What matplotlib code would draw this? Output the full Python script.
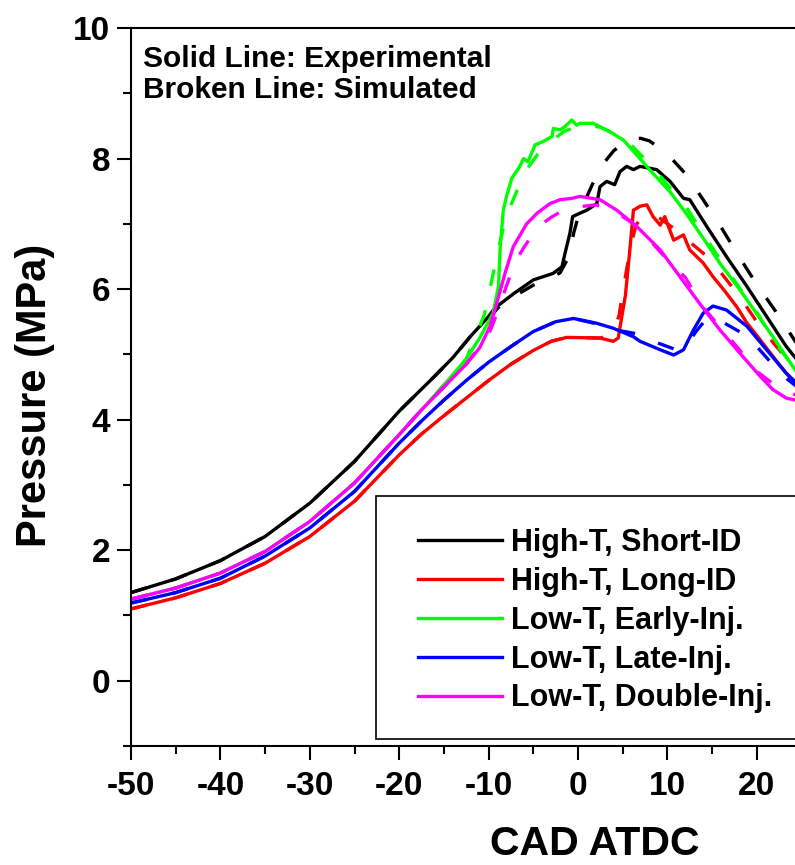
import matplotlib
matplotlib.use("Agg")
import matplotlib.pyplot as plt
from matplotlib.ticker import MultipleLocator
from matplotlib.patches import Rectangle

plt.rcParams['font.family'] = ['Liberation Sans', 'DejaVu Sans']
plt.rcParams['font.weight'] = 'bold'
plt.rcParams['axes.unicode_minus'] = False

# ---------------- data (crank angle in CAD ATDC, pressure in MPa) ----------------
labels = ["High-T, Short-ID", "High-T, Long-ID", "Low-T, Early-Inj.",
          "Low-T, Late-Inj.", "Low-T, Double-Inj."]
colors = ["#000000", "#ff0000", "#00ff00", "#0000ff", "#ff00ff"]

# High-T, Short-ID
hts_exp_x = [-50, -45, -40, -35, -30, -25, -20, -18, -16, -14, -12, -10, -9.3, -7.2, -5, -2.8,
             -1.8, -1.45, -0.9, -0.6, -0.15, 1.0, 2.1, 2.46, 3.2, 4.1, 4.7, 5.45, 6.2, 6.94,
             8.8, 10.3, 11.8, 12.5, 14.4, 16.6, 18.9, 21.1, 23.3, 24.3, 25]
hts_exp_y = [1.35, 1.56, 1.84, 2.21, 2.72, 3.36, 4.13, 4.40, 4.67, 4.95, 5.28, 5.58, 5.71, 5.93,
             6.14, 6.24, 6.34, 6.55, 6.86, 7.11, 7.14, 7.21, 7.31, 7.57, 7.65, 7.60, 7.80, 7.88,
             7.83, 7.88, 7.83, 7.65, 7.39, 7.37, 6.96, 6.50, 6.04, 5.58, 5.12, 4.95, 4.83]
hts_sim_x = [-50, -45, -40, -35, -30, -25, -20, -18, -16, -14, -12, -10, -8.5, -7, -5, -3.5,
             -2, -1, -0.5, 0, 1, 2, 3, 4, 5, 6, 7, 8, 10, 12, 14, 16, 18, 20, 22, 24.3, 25]
hts_sim_y = [1.35, 1.56, 1.84, 2.21, 2.72, 3.36, 4.13, 4.40, 4.67, 4.95, 5.28, 5.55, 5.78, 5.90,
             6.06, 6.14, 6.25, 6.50, 6.85, 7.10, 7.42, 7.72, 7.95, 8.12, 8.23, 8.30, 8.31, 8.27,
             8.07, 7.77, 7.37, 6.95, 6.50, 6.07, 5.68, 5.20, 5.06]

# High-T, Long-ID
htl_exp_x = [-50, -45, -40, -35, -30, -25, -20, -17.5, -15, -12.5, -10, -7.5, -5.0, -3.0,
             -1.26, 2.46, 3.95, 4.5, 4.9, 5.3, 5.8, 6.2, 6.6, 6.94, 7.7, 8.4, 9.2, 9.7, 10.7,
             11.8, 12.5, 14.0, 15.1, 16.3, 17.75, 18.9, 20.4, 21.8, 23.3, 24.3, 25]
htl_exp_y = [1.10, 1.27, 1.49, 1.80, 2.21, 2.75, 3.46, 3.78, 4.06, 4.33, 4.60, 4.85, 5.06, 5.20,
             5.26, 5.25, 5.20, 5.25, 5.58, 5.90, 6.60, 7.21, 7.24, 7.27, 7.29, 7.11, 6.98, 7.11,
             6.75, 6.83, 6.60, 6.40, 6.19, 5.99, 5.73, 5.48, 5.22, 4.97, 4.71, 4.56, 4.45]
htl_sim_x = [-50, -45, -40, -35, -30, -25, -20, -17.5, -15, -12.5, -10, -7.5, -5.0, -3.0,
             -1.26, 2.5, 3.2, 4.0, 4.6, 5.0, 5.5, 6.0, 6.5, 7.2, 8, 9, 10.5, 12, 14, 16, 18,
             20, 22, 24.3, 25]
htl_sim_y = [1.10, 1.27, 1.49, 1.80, 2.21, 2.75, 3.46, 3.78, 4.06, 4.33, 4.60, 4.85, 5.06, 5.20,
             5.26, 5.25, 5.28, 5.35, 5.60, 5.95, 6.35, 6.72, 6.98, 7.12, 7.15, 7.10, 6.95, 6.78,
             6.55, 6.25, 5.90, 5.50, 5.15, 4.78, 4.66]

# Low-T, Early-Inj.
lte_exp_x = [-50, -45, -40, -35, -30, -25, -20, -17.5, -15, -12.5, -11, -9.5, -8.9, -8.7,
             -8.35, -8.0, -7.4, -6.5, -6.1, -5.6, -4.8, -3.9, -2.9, -2.76, -2.0, -1.45, -0.7,
             -0.15, 0.2, 1.7, 3.6, 5.1, 6.6, 8.4, 10.3, 12.2, 14.4, 15.9, 18.1, 21.8, 24.3, 25]
lte_exp_y = [1.25, 1.42, 1.65, 1.98, 2.44, 3.03, 3.77, 4.15, 4.53, 4.93, 5.25, 5.63, 6.04, 6.65,
             7.21, 7.42, 7.70, 7.88, 8.00, 7.95, 8.21, 8.26, 8.34, 8.46, 8.44, 8.49, 8.59,
             8.51, 8.54, 8.54, 8.41, 8.28, 8.05, 7.77, 7.49, 7.14, 6.70, 6.39, 5.99, 5.27, 4.76,
             4.63]
lte_sim_x = [-50, -45, -40, -35, -30, -25, -20, -17.5, -15, -12.5, -10.5, -9.7, -8.9, -8, -7,
             -6, -4.5, -3, -1.5, 0, 1, 2.5, 4, 6, 8, 10, 12, 14, 16, 18, 20, 22, 24.3, 25]
lte_sim_y = [1.25, 1.42, 1.65, 1.98, 2.44, 3.03, 3.77, 4.15, 4.53, 4.93, 5.60, 6.10, 6.62, 7.13,
             7.45, 7.78, 8.07, 8.27, 8.42, 8.49, 8.51, 8.48, 8.38, 8.20, 7.92, 7.60, 7.28, 6.85,
             6.43, 6.03, 5.65, 5.18, 4.78, 4.65]

# Low-T, Late-Inj.
ltl_exp_x = [-50, -45, -40, -35, -30, -25, -20, -17.5, -15, -12.5, -10, -7.5, -5.0, -2.5, -0.5,
             2, 3.95, 6.2, 6.94, 9.2, 10.7, 11.8, 12.9, 14.0, 15.1, 16.6, 18.9, 21.1, 23.3,
             24.3, 25]
ltl_exp_y = [1.19, 1.35, 1.57, 1.91, 2.34, 2.90, 3.64, 3.98, 4.30, 4.60, 4.88, 5.12, 5.35, 5.50,
             5.55, 5.48, 5.40, 5.27, 5.20, 5.07, 4.99, 5.07, 5.37, 5.63, 5.74, 5.68, 5.43, 5.07,
             4.71, 4.58, 4.48]
ltl_sim_x = [-50, -45, -40, -35, -30, -25, -20, -17.5, -15, -12.5, -10, -7.5, -5.0, -2.5, -0.5,
             2, 4, 6, 7.1, 8.8, 11, 12.2, 13.2, 14.4, 16.1, 18.3, 20, 22, 23.5, 25]
ltl_sim_y = [1.19, 1.35, 1.57, 1.91, 2.34, 2.90, 3.64, 3.98, 4.30, 4.60, 4.88, 5.12, 5.35, 5.50,
             5.55, 5.47, 5.38, 5.33, 5.30, 5.18, 5.07, 5.15, 5.35, 5.55, 5.50, 5.33, 5.12, 4.81,
             4.61, 4.45]

# Low-T, Double-Inj.
ltd_exp_x = [-50, -45, -40, -35, -30, -25, -20, -17.5, -15, -12.5, -11, -9.84, -9.1, -8.17,
             -7.24, -5.74, -4.6, -3.13, -2.0, -0.7, 0.22, 2.46, 4.33, 6.57, 9.2, 11.4, 13.6,
             15.9, 18.1, 20.4, 21.8, 23.3, 24.3, 25]
ltd_exp_y = [1.25, 1.42, 1.65, 1.98, 2.44, 3.03, 3.77, 4.15, 4.50, 4.85, 5.10, 5.43, 5.78, 6.24,
             6.65, 7.00, 7.16, 7.31, 7.37, 7.39, 7.42, 7.37, 7.21, 6.96, 6.60, 6.19, 5.78,
             5.37, 5.02, 4.66, 4.46, 4.33, 4.30, 4.28]
ltd_sim_x = [-50, -45, -40, -35, -30, -25, -20, -17.5, -15, -12.5, -10, -9, -8, -7, -6, -5, -4,
             -3, -2, -1, 0, 2, 4, 6, 8, 10, 12, 14, 16, 18, 20, 22, 24.3, 25]
ltd_sim_y = [1.25, 1.42, 1.65, 1.98, 2.44, 3.03, 3.77, 4.15, 4.50, 4.85, 5.30, 5.65, 6.05, 6.42,
             6.65, 6.85, 7.00, 7.10, 7.18, 7.23, 7.26, 7.29, 7.20, 7.02, 6.75, 6.45, 6.18,
             5.72, 5.40, 5.08, 4.74, 4.53, 4.38, 4.35]

series = [
    (hts_exp_x, hts_exp_y, hts_sim_x, hts_sim_y),
    (htl_exp_x, htl_exp_y, htl_sim_x, htl_sim_y),
    (lte_exp_x, lte_exp_y, lte_sim_x, lte_sim_y),
    (ltl_exp_x, ltl_exp_y, ltl_sim_x, ltl_sim_y),
    (ltd_exp_x, ltd_exp_y, ltd_sim_x, ltd_sim_y),
]

# ---------------- figure ----------------
W, H = 795, 865
fig = plt.figure(figsize=(W / 100, H / 100), dpi=100)
x_unit = 8.94
ax = fig.add_axes([131 / W, (H - 746) / H, 75 * x_unit / W, (746 - 28) / H])

lw = 2.4
handles = []
for (ex, ey, sx, sy), c, lab in zip(series, colors, labels):
    h, = ax.plot(ex, ey, color=c, lw=lw, solid_joinstyle='round', label=lab)
    ax.plot(sx, sy, color=c, lw=lw, linestyle=(0, (5, 7.5)), dash_capstyle='butt')
    handles.append(h)

ax.set_xlim(-50, 25)
ax.set_ylim(-1, 10)
ax.xaxis.set_major_locator(MultipleLocator(10))
ax.xaxis.set_minor_locator(MultipleLocator(5))
ax.yaxis.set_major_locator(MultipleLocator(2))
ax.yaxis.set_minor_locator(MultipleLocator(1))
ax.tick_params(which='major', direction='out', length=10, width=1.5, labelsize=24, pad=5)
ax.tick_params(which='minor', direction='out', length=6, width=1.5)
ax.tick_params(axis='x', which='major', pad=8)
for t in ax.get_xticklabels() + ax.get_yticklabels():
    t.set_fontweight('bold')
for s in ax.spines.values():
    s.set_linewidth(1.5)

# annotation text
fig.text(143 / W, 1 - 67 / H, "Solid Line: Experimental", fontsize=21.5,
         fontweight='bold', va='baseline', ha='left')
fig.text(143 / W, 1 - 98 / H, "Broken Line: Simulated", fontsize=21.5,
         fontweight='bold', va='baseline', ha='left')

# axis titles
fig.text(35 / W, 1 - 395 / H, "Pressure (MPa)", fontsize=30, fontweight='bold',
         rotation=90, ha='center', va='center')
fig.text(595 / W, 1 - 855 / H, "CAD ATDC", fontsize=29.5, fontweight='bold',
         ha='center', va='baseline')

# legend box and entries
ax.add_patch(Rectangle((-22.6, -0.89), 60, 3.72, transform=ax.transData,
                       facecolor='white', edgecolor='black', lw=1.2, zorder=5))
leg = ax.legend(handles=handles, loc='upper left',
                bbox_to_anchor=(418 / W, 1 - 528 / H), bbox_transform=fig.transFigure,
                frameon=False, borderpad=0, borderaxespad=0, handlelength=2.75,
                handletextpad=0.3, labelspacing=0.29,
                prop={'weight': 'bold', 'size': 22})
leg.set_zorder(6)

fig.savefig("out.png", dpi=100)
